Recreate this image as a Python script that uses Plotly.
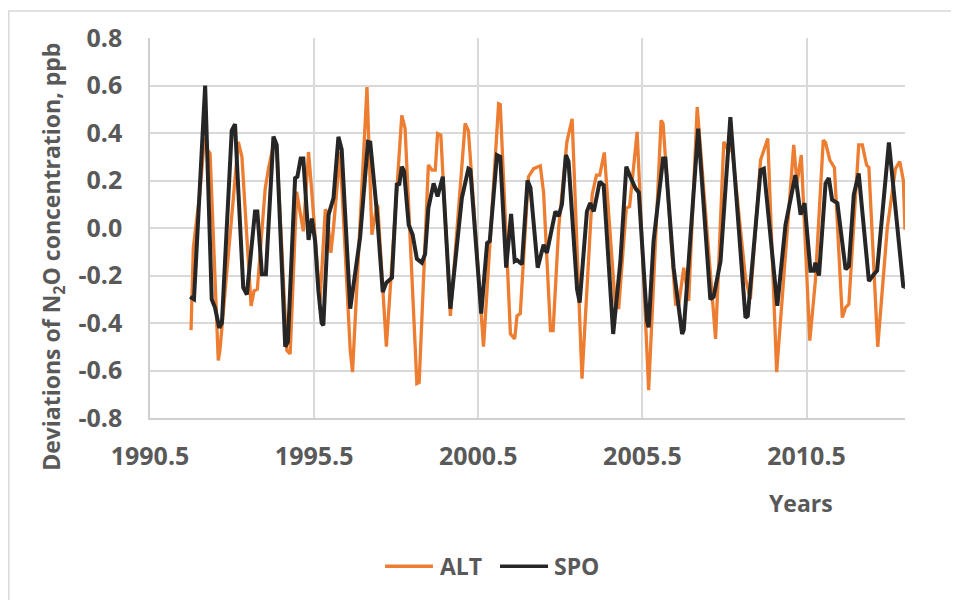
import plotly.graph_objects as go

# ---- data ----
alt_years = [1991.75, 1991.82, 1992.02, 1992.16, 1992.24, 1992.33, 1992.58, 1992.63, 1993.19, 1993.30,
             1993.58, 1993.67, 1993.77, 1994.01, 1994.11, 1994.26, 1994.36, 1994.67, 1994.77, 1994.97,
             1995.17, 1995.33, 1995.43, 1995.68, 1995.84, 1995.89, 1996.01, 1996.09, 1996.29, 1996.60,
             1996.67, 1997.11, 1997.26, 1997.41, 1997.44, 1997.70, 1998.17, 1998.27, 1998.63, 1998.70,
             1998.98, 1999.09, 1999.19, 1999.26, 1999.36, 1999.65, 2000.10, 2000.20, 2000.66, 2001.12,
             2001.17, 2001.48, 2001.61, 2001.68, 2001.78, 2002.03, 2002.19, 2002.39, 2002.49, 2002.70,
             2002.78, 2002.95, 2003.20, 2003.36, 2003.66, 2003.97, 2004.10, 2004.20, 2004.34, 2004.68,
             2004.78, 2005.01, 2005.11, 2005.34, 2005.69, 2006.07, 2006.13, 2006.51, 2006.61, 2006.76,
             2006.91, 2007.17, 2007.73, 2007.98, 2008.13, 2008.23, 2008.64, 2008.79, 2009.10, 2009.32,
             2009.59, 2010.11, 2010.21, 2010.34, 2010.60, 2010.77, 2011.01, 2011.08, 2011.21, 2011.35,
             2011.59, 2011.69, 2011.79, 2012.09, 2012.20, 2012.33, 2012.40, 2012.67, 2012.96, 2013.21,
             2013.34, 2013.45, 2013.50]
alt_values = [-0.43, -0.084, 0.15, 0.377, 0.33, 0.314, -0.558, -0.516, 0.363, 0.30,
              -0.328, -0.265, -0.258, 0.167, 0.25, 0.35, 0.34, -0.516, -0.53, 0.153,
              -0.014, 0.32, 0.15, -0.31, 0.077, 0.07, -0.105, 0.0, 0.32, -0.516,
              -0.607, 0.593, -0.028, 0.098, 0.09, -0.50, 0.474, 0.42, -0.655, -0.65,
              0.265, 0.244, 0.244, 0.397, 0.39, -0.37, 0.44, 0.41, -0.50, 0.523,
              0.52, -0.446, -0.467, -0.37, -0.36, 0.216, 0.25, 0.262, 0.15, -0.432,
              -0.432, 0.0, 0.363, 0.46, -0.634, 0.14, 0.223, 0.223, 0.318, -0.335,
              -0.335, 0.084, 0.09, 0.405, -0.683, 0.453, 0.44, -0.32, -0.32, -0.167,
              -0.307, 0.509, -0.467, 0.363, 0.32, 0.34, -0.21, -0.30, 0.286, 0.377,
              -0.607, 0.35, 0.188, 0.307, -0.474, -0.223, 0.37, 0.36, 0.286, 0.254,
              -0.377, -0.335, -0.32, 0.35, 0.35, 0.265, 0.255, -0.50, 0.0, 0.25,
              0.28, 0.20, -0.007]

spo_years = [1991.72, 1991.84, 1992.18, 1992.38, 1992.48, 1992.61, 1992.69, 1992.99, 1993.09, 1993.34,
             1993.45, 1993.70, 1993.77, 1993.91, 1994.03, 1994.26, 1994.36, 1994.62, 1994.70, 1994.92,
             1994.99, 1995.09, 1995.17, 1995.33, 1995.43, 1995.53, 1995.63, 1995.73, 1995.78, 1995.94,
             1996.09, 1996.24, 1996.34, 1996.60, 1996.90, 1997.14, 1997.21, 1997.41, 1997.59, 1997.70,
             1997.87, 1998.02, 1998.09, 1998.17, 1998.24, 1998.38, 1998.50, 1998.63, 1998.78, 1998.88,
             1998.98, 1999.14, 1999.26, 1999.42, 1999.65, 2000.00, 2000.20, 2000.26, 2000.59, 2000.77,
             2000.85, 2001.07, 2001.17, 2001.35, 2001.50, 2001.61, 2001.68, 2001.83, 2002.00, 2002.09,
             2002.31, 2002.49, 2002.59, 2002.85, 2002.95, 2003.05, 2003.17, 2003.25, 2003.51, 2003.59,
             2003.81, 2003.91, 2004.02, 2004.20, 2004.32, 2004.61, 2004.83, 2005.01, 2005.13, 2005.29,
             2005.39, 2005.64, 2005.69, 2005.84, 2006.13, 2006.20, 2006.45, 2006.71, 2006.76, 2007.20,
             2007.57, 2007.67, 2007.88, 2008.18, 2008.64, 2008.71, 2009.10, 2009.20, 2009.61, 2009.86,
             2010.16, 2010.32, 2010.44, 2010.62, 2010.72, 2010.77, 2010.88, 2011.08, 2011.18, 2011.28,
             2011.44, 2011.69, 2011.79, 2011.94, 2012.09, 2012.40, 2012.55, 2012.65, 2013.01, 2013.31,
             2013.45, 2013.50]
spo_values = [-0.29, -0.30, 0.60, -0.30, -0.335, -0.42, -0.40, 0.41, 0.437, -0.25,
              -0.28, 0.07, 0.07, -0.195, -0.195, 0.385, 0.35, -0.50, -0.48, 0.21,
              0.216, 0.293, 0.293, -0.05, 0.04, -0.056, -0.265, -0.40, -0.41, 0.056,
              0.126, 0.384, 0.33, -0.34, -0.04, 0.363, 0.36, 0.07, -0.27, -0.23,
              -0.21, 0.188, 0.18, 0.258, 0.24, 0.014, -0.028, -0.13, -0.146, -0.11,
              0.084, 0.188, 0.133, 0.216, -0.34, 0.126, 0.25, 0.245, -0.36, -0.063,
              -0.055, 0.307, 0.30, -0.167, 0.059, -0.14, -0.135, -0.153, 0.20, 0.17,
              -0.167, -0.07, -0.105, 0.07, 0.05, 0.10, 0.307, 0.28, -0.258, -0.314,
              0.07, 0.105, 0.07, 0.195, 0.18, -0.446, -0.14, 0.258, 0.216, 0.167,
              0.15, -0.39, -0.418, -0.056, 0.293, 0.293, -0.167, -0.446, -0.43, 0.418,
              -0.30, -0.29, -0.14, 0.467, -0.377, -0.37, 0.244, 0.25, -0.328, 0.014,
              0.223, 0.056, 0.105, -0.18, -0.18, -0.146, -0.20, 0.188, 0.21, 0.119,
              0.105, -0.174, -0.16, 0.14, 0.23, -0.223, -0.195, -0.18, 0.36, -0.077,
              -0.25, -0.244]

series_names = ["ALT", "SPO"]
series_colors = ["#ED7D31", "#262626"]
x_tick_values = [1990.5, 1995.5, 2000.5, 2005.5, 2010.5]
x_tick_labels = ["1990.5", "1995.5", "2000.5", "2005.5", "2010.5"]
y_tick_values = [-0.8, -0.6, -0.4, -0.2, 0.0, 0.2, 0.4, 0.6, 0.8]
y_tick_labels = ["-0.8", "-0.6", "-0.4", "-0.2", "0.0", "0.2", "0.4", "0.6", "0.8"]

TEXT = "#595959"
GRID = "#d9d9d9"
FONT = "Open Sans"

fig = go.Figure()
fig.add_trace(go.Scatter(x=alt_years, y=alt_values, mode="lines", name=series_names[0],
                         line=dict(color=series_colors[0], width=3.3)))
fig.add_trace(go.Scatter(x=spo_years, y=spo_values, mode="lines", name=series_names[1],
                         line=dict(color=series_colors[1], width=4)))

fig.update_layout(
    width=951, height=592,
    margin=dict(l=142, r=54, t=28, b=182),
    paper_bgcolor="white", plot_bgcolor="white",
    font=dict(family=FONT, color=TEXT, size=23),
    showlegend=False,
)
fig.update_xaxes(range=[1990.5, 2013.5], tickmode="array", tickvals=x_tick_values, ticktext=x_tick_labels,
                 showgrid=True, gridcolor=GRID, gridwidth=1.5, zeroline=False,
                 showline=True, linecolor="#cfcfcf", linewidth=1.5,
                 ticks="outside", ticklen=15, tickcolor="rgba(0,0,0,0)",
                 tickfont=dict(family=FONT, size=25, color=TEXT, weight="bold"))
fig.update_yaxes(range=[-0.8, 0.8], tickmode="array", tickvals=y_tick_values, ticktext=y_tick_labels,
                 showgrid=True, gridcolor=GRID, gridwidth=1.5, zeroline=False,
                 showline=True, linecolor="#cfcfcf", linewidth=1.5,
                 ticks="outside", ticklen=21, tickcolor="rgba(0,0,0,0)",
                 tickfont=dict(family=FONT, size=25, color=TEXT, weight="bold"))

fig.add_annotation(text="Deviations of N<sub>2</sub>O concentration, ppb", textangle=-90,
                   xref="paper", yref="paper", x=-0.1285, y=0.424, xanchor="center", yanchor="middle",
                   showarrow=False, font=dict(family=FONT, size=23, color=TEXT, weight="bold"))
fig.add_annotation(text="Years", xref="paper", yref="paper", x=0.862, y=-0.2225,
                   xanchor="center", yanchor="middle", showarrow=False,
                   font=dict(family=FONT, size=23, color=TEXT, weight="bold"))

# legend drawn by hand so the line samples match the reference length
legend_line_x = [(0.3113, 0.3748), (0.4636, 0.5272)]
legend_text_x = [0.3815, 0.5325]
legend_y = -0.39
for name, color, (lx0, lx1), tx in zip(series_names, series_colors, legend_line_x, legend_text_x):
    fig.add_shape(type="line", xref="paper", yref="paper", x0=lx0, x1=lx1, y0=legend_y, y1=legend_y,
                  line=dict(color=color, width=3.5))
    fig.add_annotation(text=name, xref="paper", yref="paper", x=tx, y=legend_y,
                       xanchor="left", yanchor="middle", showarrow=False,
                       font=dict(family=FONT, size=23, color=TEXT, weight="bold"))

# chart-area border (partly outside the visible page)
fig.add_shape(type="rect", xref="paper", yref="paper", x0=-0.1871, x1=1.12, y0=-0.55, y1=1.0713,
              line=dict(color=GRID, width=1.5), fillcolor="rgba(0,0,0,0)", layer="below")

fig.write_html("out.html")
